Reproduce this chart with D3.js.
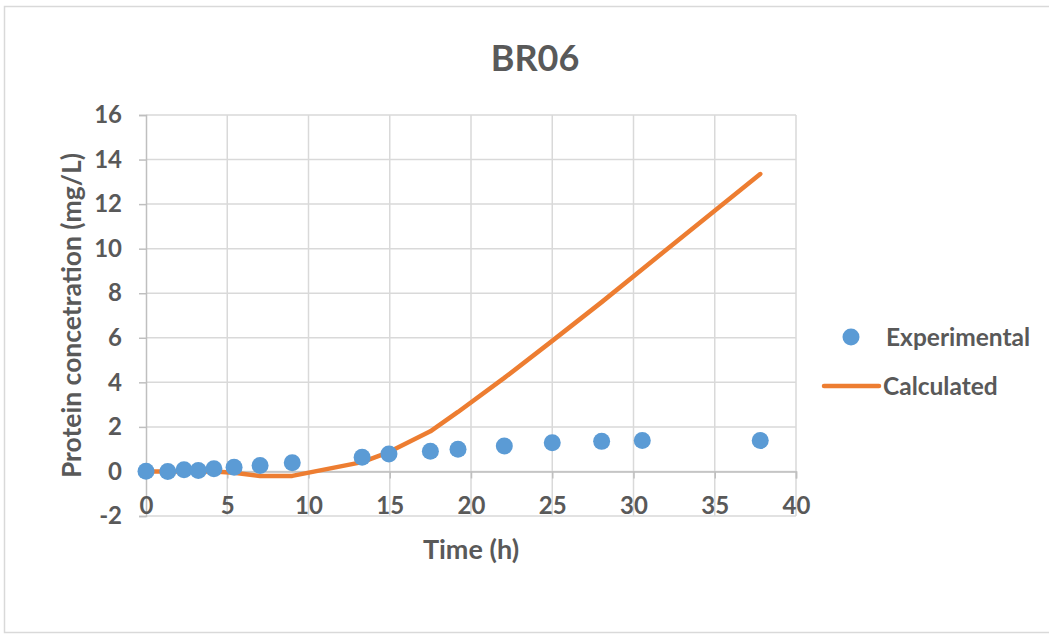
<!DOCTYPE html>
<html>
<head>
<meta charset="utf-8">
<script src="https://cdn.jsdelivr.net/npm/d3@7"></script>
<style>
  html, body { margin: 0; padding: 0; background: #fff; }
  svg { display: block; }
  text { font-family: Lato, "Open Sans", sans-serif; font-weight: bold; fill: #595959; }
</style>
</head>
<body>
<svg id="chart" width="1049" height="635"></svg>
<script>
// Sampling times (h)
const timeH = [0, 1.34, 2.34, 3.22, 4.18, 5.42, 7.02, 9.0, 13.3, 14.95, 17.5, 19.2, 22.05, 25.0, 28.04, 30.54, 37.8];
// Measured protein concentration (mg/L)
const experimental = [0.01, 0.0, 0.08, 0.04, 0.12, 0.19, 0.27, 0.39, 0.64, 0.78, 0.91, 1.0, 1.14, 1.29, 1.35, 1.39, 1.39];
// Model output (mg/L)
const calculated = [0, 0, 0, 0, 0, -0.06, -0.2, -0.2, 0.42, 0.87, 1.8, 2.67, 4.2, 5.86, 7.6, 9.08, 13.35];

const xTicks = [0, 5, 10, 15, 20, 25, 30, 35, 40];
const yTicks = [-2, 0, 2, 4, 6, 8, 10, 12, 14, 16];

const seriesNames = ["Experimental", "Calculated"];
const colors = { Experimental: "#5B9BD5", Calculated: "#ED7D31" };

const svg = d3.select("#chart");

// chart frame
svg.append("rect")
  .attr("x", 4.5).attr("y", 6.5)
  .attr("width", 1100).attr("height", 626)
  .attr("fill", "#fff").attr("stroke", "#d9d9d9").attr("stroke-width", 1.5);

const x = d3.scaleLinear().domain([0, 40]).range([146, 796]);
const y = d3.scaleLinear().domain([-2, 16]).range([516, 115]);

// gridlines
const grid = svg.append("g");
grid.selectAll("line.h").data(yTicks).join("line")
  .attr("x1", x(0)).attr("x2", x(40))
  .attr("y1", d => y(d)).attr("y2", d => y(d))
  .attr("stroke", "#d9d9d9").attr("stroke-width", 1.5);
grid.selectAll("line.v").data(xTicks.filter(d => d > 0)).join("line")
  .attr("x1", d => x(d)).attr("x2", d => x(d))
  .attr("y1", y(-2)).attr("y2", y(16))
  .attr("stroke", "#d9d9d9").attr("stroke-width", 1.5);

const plain = d => String(d);

// y axis
const yAxis = svg.append("g")
  .attr("transform", `translate(${x(0)},0)`)
  .call(d3.axisLeft(y).tickValues(yTicks).tickFormat(plain).tickSize(7).tickPadding(17));
// x axis crossing at 0
const xAxis = svg.append("g")
  .attr("transform", `translate(0,${y(0)})`)
  .call(d3.axisBottom(x).tickValues(xTicks).tickFormat(plain).tickSize(7).tickPadding(16));

[yAxis, xAxis].forEach(g => {
  g.select(".domain").attr("stroke", "#bfbfbf").attr("stroke-width", 1.5);
  g.selectAll(".tick line").attr("stroke", "#bfbfbf").attr("stroke-width", 1.5);
  g.selectAll(".tick text")
    .attr("fill", "#595959")
    .style("font-family", "Lato, 'Open Sans', sans-serif")
    .style("font-weight", "bold")
    .style("font-size", "24px");
});
xAxis.selectAll(".tick text").attr("dy", "0.8em");

// calculated curve
const line = d3.line().x((d, i) => x(timeH[i])).y(d => y(d));
svg.append("path")
  .datum(calculated)
  .attr("d", line)
  .attr("fill", "none")
  .attr("stroke", colors.Calculated)
  .attr("stroke-width", 4.5)
  .attr("stroke-linejoin", "round")
  .attr("stroke-linecap", "round");

// experimental points
svg.append("g").selectAll("circle")
  .data(experimental)
  .join("circle")
  .attr("cx", (d, i) => x(timeH[i]))
  .attr("cy", d => y(d))
  .attr("r", 8.5)
  .attr("fill", colors.Experimental);

// title
svg.append("text")
  .attr("x", 535).attr("y", 71)
  .attr("text-anchor", "middle")
  .style("font-size", "36px")
  .text("BR06");

// axis titles
svg.append("text")
  .attr("x", 471).attr("y", 559)
  .attr("text-anchor", "middle")
  .style("font-size", "27px")
  .text("Time (h)");

svg.append("text")
  .attr("transform", `translate(81,${(y(-2) + y(16)) / 2}) rotate(-90)`)
  .attr("text-anchor", "middle")
  .style("font-size", "26.5px")
  .text("Protein concetration (mg/L)");

// legend
const legend = svg.append("g");
legend.append("circle")
  .attr("cx", 851).attr("cy", 337).attr("r", 8.5)
  .attr("fill", colors.Experimental);
legend.append("text")
  .attr("x", 886).attr("y", 346)
  .style("font-size", "24.5px")
  .text(seriesNames[0]);
legend.append("line")
  .attr("x1", 824).attr("x2", 879)
  .attr("y1", 386).attr("y2", 386)
  .attr("stroke", colors.Calculated).attr("stroke-width", 4.5)
  .attr("stroke-linecap", "round");
legend.append("text")
  .attr("x", 883).attr("y", 395)
  .style("font-size", "24.5px")
  .text(seriesNames[1]);
</script>
</body>
</html>
